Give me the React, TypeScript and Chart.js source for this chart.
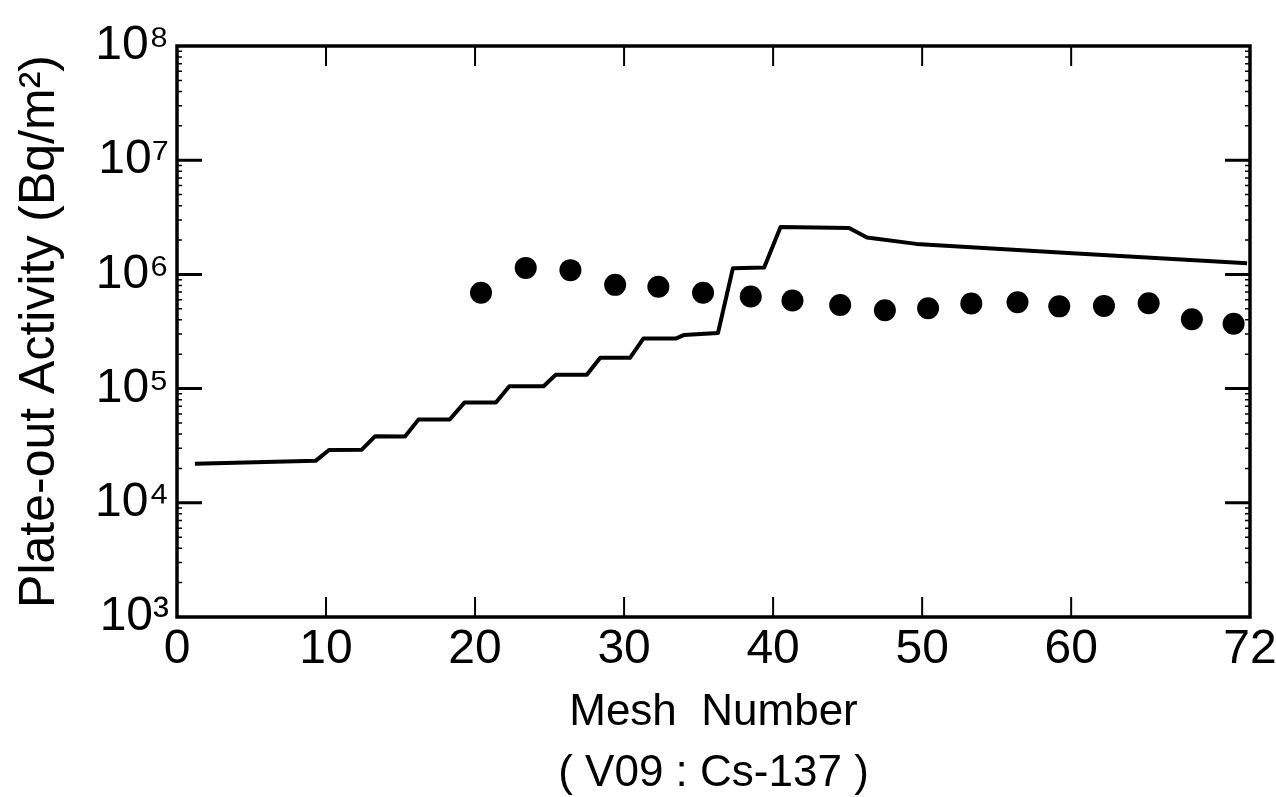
import { useEffect, useRef } from "react";
import { Chart, registerables } from "chart.js";

Chart.register(...registerables);

// ---- data ----
const lineMesh = [1.2, 9.3, 10.2, 12.4, 13.3, 15.3, 16.2, 18.3, 19.3, 21.4, 22.3, 24.6, 25.4, 27.5, 28.4, 30.4, 31.3, 33.5, 34.0, 36.3, 37.3, 39.4, 40.5, 45.1, 46.3, 49.6, 59.5, 71.8];
const lineActivity = [2.2e4, 2.33e4, 2.9e4, 2.92e4, 3.83e4, 3.81e4, 5.35e4, 5.36e4, 7.57e4, 7.55e4, 1.05e5, 1.05e5, 1.32e5, 1.32e5, 1.86e5, 1.86e5, 2.75e5, 2.75e5, 2.94e5, 3.07e5, 1.13e6, 1.15e6, 2.6e6, 2.55e6, 2.1e6, 1.85e6, 1.55e6, 1.25e6];

const dotMesh = [20.4, 23.4, 26.4, 29.4, 32.3, 35.3, 38.5, 41.3, 44.5, 47.5, 50.4, 53.3, 56.4, 59.2, 62.2, 65.2, 68.1, 70.9];
const dotActivity = [6.9e5, 1.14e6, 1.09e6, 8.1e5, 7.8e5, 6.9e5, 6.4e5, 5.9e5, 5.4e5, 4.85e5, 5.05e5, 5.56e5, 5.7e5, 5.25e5, 5.3e5, 5.6e5, 4.05e5, 3.7e5];

const xTickValues = [0, 10, 20, 30, 40, 50, 60, 72];
const xTickLabels = ["0", "10", "20", "30", "40", "50", "60", "72"];
const yTickValues = [1e3, 1e4, 1e5, 1e6, 1e7, 1e8];
const yTickLabels = ["10³", "10⁴", "10⁵", "10⁶", "10⁷", "10⁸"];

const xTitle = ["Mesh  Number", "( V09 : Cs-137 )"];
const yTitle = "Plate-out Activity (Bq/m²)";

const FONT = "'Liberation Sans', Arial, sans-serif";

const frameTicks = {
  id: "frameTicks",
  afterDatasetsDraw(chart: any) {
    const { ctx, chartArea, scales } = chart;
    const { left, right, top, bottom } = chartArea;
    const x = scales.x;
    const y = scales.y;
    ctx.save();
    ctx.strokeStyle = "#000";
    ctx.lineCap = "butt";
    // x major ticks (inward, top and bottom)
    ctx.lineWidth = 2;
    xTickValues.forEach((v) => {
      if (v === x.min || v === x.max) return;
      const px = x.getPixelForValue(v);
      ctx.beginPath();
      ctx.moveTo(px, bottom);
      ctx.lineTo(px, bottom - 20);
      ctx.moveTo(px, top);
      ctx.lineTo(px, top + 20);
      ctx.stroke();
    });
    // y minor ticks
    ctx.lineWidth = 1.5;
    for (let d = 3; d < 8; d++) {
      for (let k = 2; k <= 9; k++) {
        const py = y.getPixelForValue(k * Math.pow(10, d));
        ctx.beginPath();
        ctx.moveTo(left, py);
        ctx.lineTo(left + 5, py);
        ctx.moveTo(right, py);
        ctx.lineTo(right - 5, py);
        ctx.stroke();
      }
    }
    // y major ticks
    ctx.lineWidth = 3;
    yTickValues.forEach((v) => {
      if (v === y.min || v === y.max) return;
      const py = y.getPixelForValue(v);
      ctx.beginPath();
      ctx.moveTo(left, py);
      ctx.lineTo(left + 25, py);
      ctx.moveTo(right, py);
      ctx.lineTo(right - 25, py);
      ctx.stroke();
    });
    // frame
    ctx.lineWidth = 3.5;
    ctx.strokeRect(left, top, right - left, bottom - top);
    ctx.restore();
  },
};

export default function App() {
  const canvasRef = useRef<HTMLCanvasElement | null>(null);

  useEffect(() => {
    const canvas = canvasRef.current;
    if (!canvas) return;
    const chart = new Chart(canvas, {
      type: "scatter",
      data: {
        datasets: [
          {
            label: "Calculated",
            data: lineMesh.map((m, i) => ({ x: m, y: lineActivity[i] })),
            showLine: true,
            borderColor: "#000",
            borderWidth: 4,
            pointRadius: 0,
            tension: 0,
            borderJoinStyle: "round",
          },
          {
            label: "Measured",
            data: dotMesh.map((m, i) => ({ x: m, y: dotActivity[i] })),
            showLine: false,
            backgroundColor: "#000",
            borderColor: "#000",
            pointRadius: 11,
            pointBorderWidth: 0,
          },
        ],
      },
      options: {
        animation: false,
        responsive: true,
        maintainAspectRatio: false,
        layout: { padding: { top: 46, right: 26, left: 0, bottom: 0 } },
        plugins: {
          legend: { display: false },
          tooltip: { enabled: false },
        },
        scales: {
          x: {
            type: "linear",
            min: 0,
            max: 72,
            afterBuildTicks: (s: any) => {
              s.ticks = xTickValues.map((v) => ({ value: v }));
            },
            ticks: {
              autoSkip: false,
              maxRotation: 0,
              color: "#000",
              padding: 4,
              font: { family: FONT, size: 48 },
              callback: (_v: any, i: number) => xTickLabels[i],
            },
            grid: { display: false, drawTicks: false },
            border: { display: false },
            title: {
              display: true,
              text: xTitle,
              color: "#000",
              font: { family: FONT, size: 44, lineHeight: 1.4 },
              padding: { top: 0, bottom: -8 },
            },
            afterFit: (s: any) => {
              s.height = 180;
              s.paddingLeft = 0;
              s.paddingRight = 0;
            },
          },
          y: {
            type: "logarithmic",
            min: 1e3,
            max: 1e8,
            afterBuildTicks: (s: any) => {
              s.ticks = yTickValues.map((v) => ({ value: v }));
            },
            ticks: {
              autoSkip: false,
              color: "#000",
              padding: 8,
              font: { family: FONT, size: 48 },
              callback: (_v: any, i: number) => yTickLabels[i],
            },
            grid: { display: false, drawTicks: false },
            border: { display: false },
            title: {
              display: true,
              text: yTitle,
              color: "#000",
              font: { family: FONT, size: 50, lineHeight: 1.2 },
              padding: { top: 10, bottom: 0 },
            },
            afterFit: (s: any) => {
              s.width = 177;
              s.paddingTop = 0;
              s.paddingBottom = 0;
            },
          },
        },
      },
      plugins: [frameTicks],
    } as any);
    return () => chart.destroy();
  }, []);

  return (
    <div style={{ position: "fixed", left: 0, top: 0, width: 1276, height: 797, background: "#fff" }}>
      <canvas ref={canvasRef} />
    </div>
  );
}
